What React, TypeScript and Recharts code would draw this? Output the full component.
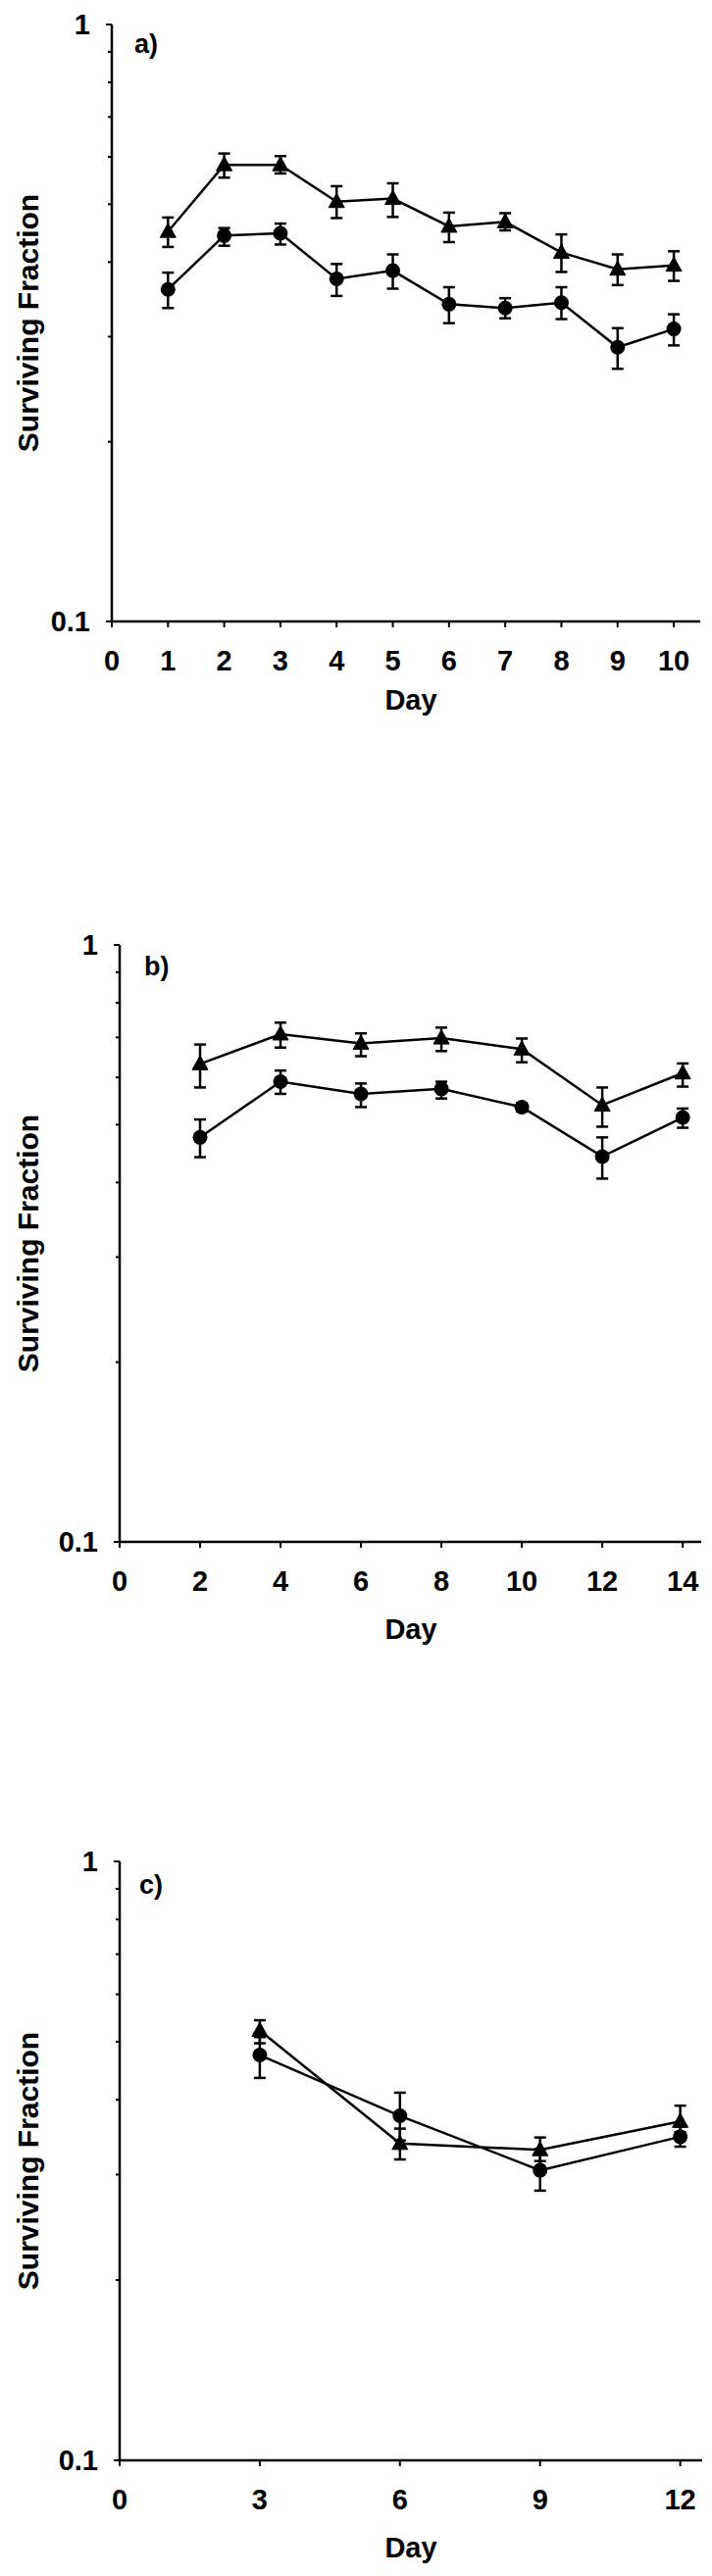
import { LineChart, Line, XAxis, YAxis, ErrorBar } from 'recharts'

const FONT = '"Liberation Sans", Arial, sans-serif'
const Y_TICKS = [0.1, 0.2, 0.3, 0.4, 0.5, 0.6, 0.7, 0.8, 0.9, 1]

// panel a
const daysA = [1, 2, 3, 4, 5, 6, 7, 8, 9, 10]
const triA = [0.45, 0.582, 0.582, 0.505, 0.511, 0.459, 0.467, 0.415, 0.389, 0.395]
const triAHi = [0.475, 0.608, 0.602, 0.536, 0.542, 0.484, 0.483, 0.445, 0.412, 0.417]
const triALo = [0.424, 0.554, 0.563, 0.474, 0.476, 0.432, 0.452, 0.385, 0.366, 0.372]
const cirA = [0.36, 0.443, 0.447, 0.375, 0.387, 0.34, 0.335, 0.342, 0.288, 0.309]
const cirAHi = [0.384, 0.456, 0.464, 0.397, 0.412, 0.363, 0.348, 0.363, 0.31, 0.327]
const cirALo = [0.335, 0.426, 0.428, 0.351, 0.361, 0.316, 0.322, 0.321, 0.265, 0.29]
const ticksA = [0, 1, 2, 3, 4, 5, 6, 7, 8, 9, 10]

// panel b
const daysB = [2, 4, 6, 8, 10, 12, 14]
const triB = [0.632, 0.709, 0.684, 0.698, 0.669, 0.539, 0.61]
const triBHi = [0.681, 0.741, 0.711, 0.727, 0.697, 0.577, 0.633]
const triBLo = [0.577, 0.673, 0.651, 0.664, 0.636, 0.496, 0.579]
const cirB = [0.476, 0.59, 0.563, 0.574, 0.535, 0.442, 0.514]
const cirBHi = [0.51, 0.616, 0.586, 0.59, 0.543, 0.476, 0.532]
const cirBLo = [0.441, 0.563, 0.535, 0.553, 0.526, 0.406, 0.494]
const ticksB = [0, 2, 4, 6, 8, 10, 12, 14]

// panel c
const daysC = [3, 6, 9, 12]
const triC = [0.522, 0.338, 0.33, 0.368]
const triCHi = [0.543, 0.358, 0.346, 0.391]
const triCLo = [0.497, 0.318, 0.316, 0.353]
const cirC = [0.475, 0.376, 0.305, 0.347]
const cirCHi = [0.509, 0.411, 0.331, 0.361]
const cirCLo = [0.435, 0.342, 0.282, 0.334]
const ticksC = [0, 3, 6, 9, 12]

const STROKE = 2.5

function buildRows(
  days: number[],
  tri: number[],
  triLo: number[],
  triHi: number[],
  cir: number[],
  cirLo: number[],
  cirHi: number[],
) {
  return days.map((day, i) => ({
    day,
    tri: tri[i],
    triErr: [tri[i] - triLo[i], triHi[i] - tri[i]],
    cir: cir[i],
    cirErr: [cir[i] - cirLo[i], cirHi[i] - cir[i]],
  }))
}

interface PanelProps {
  top: number
  axisX: number
  plotRight: number
  plotHeight: number
  xMax: number
  xTicks: number[]
  rows: ReturnType<typeof buildRows>
  letter: string
  letterDx: number
  letterDy: number
  dayDy: number
}

const YTick = (props: any) => {
  const { x, y, payload } = props
  const v = payload.value
  const isOne = Math.abs(v - 1) < 1e-6
  const isTenth = Math.abs(v - 0.1) < 1e-6
  const major = isOne || isTenth
  return (
    <g>
      <line x1={x - (major ? 6 : 4)} y1={y} x2={x} y2={y} stroke="#000" strokeWidth={2} />
      {major && (
        <text
          x={x - 22}
          y={y + 10}
          textAnchor="end"
          fontSize={29}
          fontWeight="bold"
          fontFamily={FONT}
          fill="#000"
        >
          {isOne ? '1' : '0.1'}
        </text>
      )}
    </g>
  )
}

const XTick = (props: any) => {
  const { x, y, payload } = props
  return (
    <g>
      <line x1={x} y1={y} x2={x} y2={y + 6} stroke="#000" strokeWidth={2} />
      <text x={x} y={y + 50} textAnchor="middle" fontSize={29} fontWeight="bold" fontFamily={FONT} fill="#000">
        {payload.value}
      </text>
    </g>
  )
}

const triangleDot = (props: any) => {
  const { cx, cy, index } = props
  if (cx == null || cy == null) return <g key={`t-${index}`} />
  return (
    <path
      key={`t-${index}`}
      d={`M${cx},${cy - 8.5} L${cx + 8},${cy + 6} L${cx - 8},${cy + 6} Z`}
      fill="#000"
      stroke="#000"
      strokeWidth={1}
    />
  )
}

function Panel(p: PanelProps) {
  const marginTop = 25
  const xAxisH = 115
  const height = marginTop + p.plotHeight + xAxisH

  const yLabel = (props: any) => {
    const vb = props.viewBox || {}
    const cy = (vb.y ?? marginTop) + (vb.height ?? p.plotHeight) / 2
    const ax = (vb.x ?? 0) + (vb.width ?? p.axisX)
    const top = vb.y ?? marginTop
    return (
      <g>
        <text
          x={39}
          y={cy}
          transform={`rotate(-90, 39, ${cy})`}
          textAnchor="middle"
          fontSize={30}
          fontWeight="bold"
          fontFamily={FONT}
          fill="#000"
        >
          Surviving Fraction
        </text>
        <text x={ax + p.letterDx} y={top + p.letterDy} fontSize={27} fontWeight="bold" fontFamily={FONT} fill="#000">
          {p.letter}
        </text>
      </g>
    )
  }

  const xLabel = (props: any) => {
    const vb = props.viewBox || {}
    const y = (vb.y ?? marginTop + p.plotHeight) + p.dayDy
    return (
      <text x={419} y={y} textAnchor="middle" fontSize={29} fontWeight="bold" fontFamily={FONT} fill="#000">
        Day
      </text>
    )
  }

  return (
    <div style={{ position: 'absolute', left: 0, top: p.top, width: 726, height }}>
      <LineChart
        width={726}
        height={height}
        data={p.rows}
        margin={{ top: marginTop, right: 726 - p.plotRight, bottom: 0, left: 0 }}
      >
        <XAxis
          dataKey="day"
          type="number"
          domain={[0, p.xMax]}
          ticks={p.xTicks}
          allowDataOverflow
          height={xAxisH}
          axisLine={{ stroke: '#000', strokeWidth: STROKE }}
          tickLine={false}
          tickSize={0}
          tickMargin={0}
          tick={(props: any) => <XTick {...props} />}
          interval={0}
          label={xLabel}
        />
        <YAxis
          type="number"
          scale="log"
          domain={[0.1, 1]}
          ticks={Y_TICKS}
          allowDataOverflow
          width={p.axisX}
          axisLine={{ stroke: '#000', strokeWidth: STROKE }}
          tickLine={false}
          tickSize={0}
          tickMargin={0}
          tick={(props: any) => <YTick {...props} />}
          interval={0}
          label={yLabel}
        />
        <Line
          dataKey="tri"
          type="linear"
          stroke="#000"
          strokeWidth={STROKE}
          dot={triangleDot}
          activeDot={false}
          isAnimationActive={false}
        >
          <ErrorBar dataKey="triErr" direction="y" width={6} stroke="#000" strokeWidth={STROKE} />
        </Line>
        <Line
          dataKey="cir"
          type="linear"
          stroke="#000"
          strokeWidth={STROKE}
          dot={{ r: 7.5, fill: '#000', stroke: '#000', strokeWidth: 0 }}
          activeDot={false}
          isAnimationActive={false}
        >
          <ErrorBar dataKey="cirErr" direction="y" width={6} stroke="#000" strokeWidth={STROKE} />
        </Line>
      </LineChart>
    </div>
  )
}

export default function App() {
  const rowsA = buildRows(daysA, triA, triALo, triAHi, cirA, cirALo, cirAHi)
  const rowsB = buildRows(daysB, triB, triBLo, triBHi, cirB, cirBLo, cirBHi)
  const rowsC = buildRows(daysC, triC, triCLo, triCHi, cirC, cirCLo, cirCHi)
  return (
    <div style={{ position: 'absolute', left: 0, top: 0, width: 726, height: 2628, background: '#fff' }}>
      <Panel
        top={0}
        axisX={114}
        plotRight={714}
        plotHeight={609}
        xMax={10.47}
        xTicks={ticksA}
        rows={rowsA}
        letter="a)"
        letterDx={23}
        letterDy={29}
        dayDy={90}
      />
      <Panel
        top={939}
        axisX={122}
        plotRight={715}
        plotHeight={609}
        xMax={14.46}
        xTicks={ticksB}
        rows={rowsB}
        letter="b)"
        letterDx={25}
        letterDy={31}
        dayDy={99}
      />
      <Panel
        top={1874}
        axisX={122}
        plotRight={716}
        plotHeight={611}
        xMax={12.47}
        xTicks={ticksC}
        rows={rowsC}
        letter="c)"
        letterDx={20}
        letterDy={33}
        dayDy={99}
      />
    </div>
  )
}
